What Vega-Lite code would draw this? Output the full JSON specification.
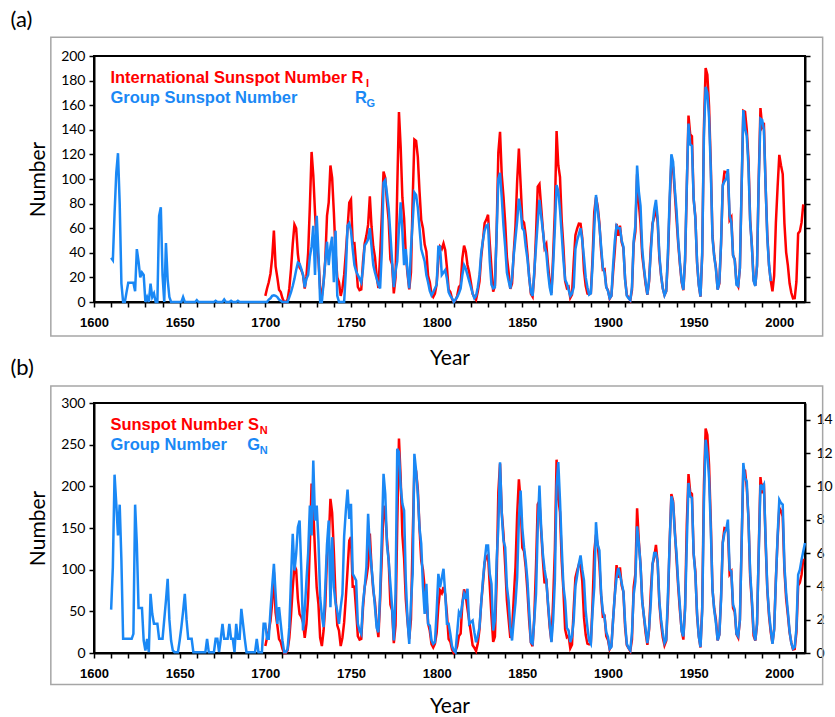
{
"$schema":"https://vega.github.io/schema/vega-lite/v6.json",
"padding":{"left":9,"top":7,"right":0,"bottom":0},
"background":"white",
"config":{"view":{"stroke":"black","strokeWidth":2},"font":"Lato","axis":{"domainColor":"black","domainWidth":2,"tickColor":"black","tickWidth":1.5,"grid":false,"labelColor":"black","titleColor":"black","labelOverlap":false,"labelBound":false,"labelFlush":false}},
"datasets":{
"ri":[{"year":1700,"value":5},{"year":1701,"value":11},{"year":1702,"value":16},{"year":1703,"value":23},{"year":1704,"value":36},{"year":1705,"value":58},{"year":1706,"value":29},{"year":1707,"value":20},{"year":1708,"value":10},{"year":1709,"value":8},{"year":1710,"value":3},{"year":1711,"value":0},{"year":1712,"value":0},{"year":1713,"value":2},{"year":1714,"value":11},{"year":1715,"value":27},{"year":1716,"value":47},{"year":1717,"value":63},{"year":1718,"value":60},{"year":1719,"value":39},{"year":1720,"value":28},{"year":1721,"value":26},{"year":1722,"value":22},{"year":1723,"value":11},{"year":1724,"value":21},{"year":1725,"value":40},{"year":1726,"value":78},{"year":1727,"value":122},{"year":1728,"value":103},{"year":1729,"value":73},{"year":1730,"value":47},{"year":1731,"value":35},{"year":1732,"value":11},{"year":1733,"value":5},{"year":1734,"value":16},{"year":1735,"value":34},{"year":1736,"value":70},{"year":1737,"value":81},{"year":1738,"value":111},{"year":1739,"value":101},{"year":1740,"value":73},{"year":1741,"value":40},{"year":1742,"value":20},{"year":1743,"value":16},{"year":1744,"value":5},{"year":1745,"value":11},{"year":1746,"value":22},{"year":1747,"value":40},{"year":1748,"value":60},{"year":1749,"value":80.9},{"year":1750,"value":83.4},{"year":1751,"value":47.7},{"year":1752,"value":47.8},{"year":1753,"value":30.7},{"year":1754,"value":12.2},{"year":1755,"value":9.6},{"year":1756,"value":10.2},{"year":1757,"value":32.4},{"year":1758,"value":47.6},{"year":1759,"value":54},{"year":1760,"value":62.9},{"year":1761,"value":85.9},{"year":1762,"value":61.2},{"year":1763,"value":45.1},{"year":1764,"value":36.4},{"year":1765,"value":20.9},{"year":1766,"value":11.4},{"year":1767,"value":37.8},{"year":1768,"value":69.8},{"year":1769,"value":106.1},{"year":1770,"value":100.8},{"year":1771,"value":81.6},{"year":1772,"value":66.5},{"year":1773,"value":34.8},{"year":1774,"value":30.6},{"year":1775,"value":7},{"year":1776,"value":19.8},{"year":1777,"value":92.5},{"year":1778,"value":154.4},{"year":1779,"value":125.9},{"year":1780,"value":84.8},{"year":1781,"value":68.1},{"year":1782,"value":38.5},{"year":1783,"value":22.8},{"year":1784,"value":10.2},{"year":1785,"value":24.1},{"year":1786,"value":82.9},{"year":1787,"value":132},{"year":1788,"value":130.9},{"year":1789,"value":118.1},{"year":1790,"value":89.9},{"year":1791,"value":66.6},{"year":1792,"value":60},{"year":1793,"value":46.9},{"year":1794,"value":41},{"year":1795,"value":21.3},{"year":1796,"value":16},{"year":1797,"value":6.4},{"year":1798,"value":4.1},{"year":1799,"value":6.8},{"year":1800,"value":14.5},{"year":1801,"value":34},{"year":1802,"value":45},{"year":1803,"value":43.1},{"year":1804,"value":47.5},{"year":1805,"value":42.2},{"year":1806,"value":28.1},{"year":1807,"value":10.1},{"year":1808,"value":8.1},{"year":1809,"value":2.5},{"year":1810,"value":0},{"year":1811,"value":1.4},{"year":1812,"value":5},{"year":1813,"value":12.2},{"year":1814,"value":13.9},{"year":1815,"value":35.4},{"year":1816,"value":45.8},{"year":1817,"value":41},{"year":1818,"value":30.1},{"year":1819,"value":23.9},{"year":1820,"value":15.6},{"year":1821,"value":6.6},{"year":1822,"value":4},{"year":1823,"value":1.8},{"year":1824,"value":8.5},{"year":1825,"value":16.6},{"year":1826,"value":36.3},{"year":1827,"value":49.6},{"year":1828,"value":64.2},{"year":1829,"value":67},{"year":1830,"value":70.9},{"year":1831,"value":47.8},{"year":1832,"value":27.5},{"year":1833,"value":8.5},{"year":1834,"value":13.2},{"year":1835,"value":56.9},{"year":1836,"value":121.5},{"year":1837,"value":138.3},{"year":1838,"value":103.2},{"year":1839,"value":85.7},{"year":1840,"value":64.6},{"year":1841,"value":36.7},{"year":1842,"value":24.2},{"year":1843,"value":10.7},{"year":1844,"value":15},{"year":1845,"value":40.1},{"year":1846,"value":61.5},{"year":1847,"value":98.5},{"year":1848,"value":124.7},{"year":1849,"value":96.3},{"year":1850,"value":66.6},{"year":1851,"value":64.5},{"year":1852,"value":54.1},{"year":1853,"value":39},{"year":1854,"value":20.6},{"year":1855,"value":6.7},{"year":1856,"value":4.3},{"year":1857,"value":22.7},{"year":1858,"value":54.8},{"year":1859,"value":93.8},{"year":1860,"value":95.8},{"year":1861,"value":77.2},{"year":1862,"value":59.1},{"year":1863,"value":44},{"year":1864,"value":47},{"year":1865,"value":30.5},{"year":1866,"value":16.3},{"year":1867,"value":7.3},{"year":1868,"value":37.6},{"year":1869,"value":74},{"year":1870,"value":139},{"year":1871,"value":111.2},{"year":1872,"value":101.6},{"year":1873,"value":66.2},{"year":1874,"value":44.7},{"year":1875,"value":17},{"year":1876,"value":11.3},{"year":1877,"value":12.4},{"year":1878,"value":3.4},{"year":1879,"value":6},{"year":1880,"value":32.3},{"year":1881,"value":54.3},{"year":1882,"value":59.7},{"year":1883,"value":63.7},{"year":1884,"value":63.5},{"year":1885,"value":52.2},{"year":1886,"value":25.4},{"year":1887,"value":13.1},{"year":1888,"value":6.8},{"year":1889,"value":6.3},{"year":1890,"value":7.1},{"year":1891,"value":35.6},{"year":1892,"value":73},{"year":1893,"value":85.1},{"year":1894,"value":78},{"year":1895,"value":64},{"year":1896,"value":41.8},{"year":1897,"value":26.2},{"year":1898,"value":26.7},{"year":1899,"value":12.1},{"year":1900,"value":9.5},{"year":1901,"value":2.7},{"year":1902,"value":5},{"year":1903,"value":24.4},{"year":1904,"value":42},{"year":1905,"value":63.5},{"year":1906,"value":53.8},{"year":1907,"value":62},{"year":1908,"value":48.5},{"year":1909,"value":43.9},{"year":1910,"value":18.6},{"year":1911,"value":5.7},{"year":1912,"value":3.6},{"year":1913,"value":1.4},{"year":1914,"value":9.6},{"year":1915,"value":47.4},{"year":1916,"value":57.1},{"year":1917,"value":103.9},{"year":1918,"value":80.6},{"year":1919,"value":63.6},{"year":1920,"value":37.6},{"year":1921,"value":26.1},{"year":1922,"value":14.2},{"year":1923,"value":5.8},{"year":1924,"value":16.7},{"year":1925,"value":44.3},{"year":1926,"value":63.9},{"year":1927,"value":69},{"year":1928,"value":77.8},{"year":1929,"value":64.9},{"year":1930,"value":35.7},{"year":1931,"value":21.2},{"year":1932,"value":11.1},{"year":1933,"value":5.7},{"year":1934,"value":8.7},{"year":1935,"value":36.1},{"year":1936,"value":79.7},{"year":1937,"value":114.4},{"year":1938,"value":109.6},{"year":1939,"value":88.8},{"year":1940,"value":67.8},{"year":1941,"value":47.5},{"year":1942,"value":30.6},{"year":1943,"value":16.3},{"year":1944,"value":9.6},{"year":1945,"value":33.2},{"year":1946,"value":92.6},{"year":1947,"value":151.6},{"year":1948,"value":136.3},{"year":1949,"value":134.7},{"year":1950,"value":83.9},{"year":1951,"value":69.4},{"year":1952,"value":31.5},{"year":1953,"value":13.9},{"year":1954,"value":4.4},{"year":1955,"value":38},{"year":1956,"value":141.7},{"year":1957,"value":190.2},{"year":1958,"value":184.8},{"year":1959,"value":159},{"year":1960,"value":112.3},{"year":1961,"value":53.9},{"year":1962,"value":37.6},{"year":1963,"value":27.9},{"year":1964,"value":10.2},{"year":1965,"value":15.1},{"year":1966,"value":47},{"year":1967,"value":93.8},{"year":1968,"value":105.9},{"year":1969,"value":105.5},{"year":1970,"value":104.5},{"year":1971,"value":66.6},{"year":1972,"value":68.9},{"year":1973,"value":38},{"year":1974,"value":34.5},{"year":1975,"value":15.5},{"year":1976,"value":12.6},{"year":1977,"value":27.5},{"year":1978,"value":92.5},{"year":1979,"value":155.4},{"year":1980,"value":154.6},{"year":1981,"value":140.4},{"year":1982,"value":115.9},{"year":1983,"value":66.6},{"year":1984,"value":45.9},{"year":1985,"value":17.9},{"year":1986,"value":13.4},{"year":1987,"value":29.4},{"year":1988,"value":100.2},{"year":1989,"value":157.6},{"year":1990,"value":142.6},{"year":1991,"value":145.7},{"year":1992,"value":94.3},{"year":1993,"value":54.6},{"year":1994,"value":29.9},{"year":1995,"value":17.5},{"year":1996,"value":8.6},{"year":1997,"value":21.5},{"year":1998,"value":64.3},{"year":1999,"value":93.3},{"year":2000,"value":119.6},{"year":2001,"value":111},{"year":2002,"value":104},{"year":2003,"value":63.7},{"year":2004,"value":40.4},{"year":2005,"value":29.8},{"year":2006,"value":15.2},{"year":2007,"value":7.5},{"year":2008,"value":2.9},{"year":2009,"value":3.1},{"year":2010,"value":16.5},{"year":2011,"value":55.7},{"year":2012,"value":57.6},{"year":2013,"value":64.7},{"year":2014,"value":79.3}],
"rg":[{"year":1610,"value":36},{"year":1611,"value":34},{"year":1612,"value":72},{"year":1613,"value":105},{"year":1614,"value":121},{"year":1615,"value":80},{"year":1616,"value":15},{"year":1617,"value":0},{"year":1618,"value":0},{"year":1619,"value":8},{"year":1620,"value":15.6},{"year":1621,"value":15.6},{"year":1622,"value":15.6},{"year":1623,"value":15.6},{"year":1624,"value":8.8},{"year":1625,"value":43},{"year":1626,"value":33},{"year":1627,"value":20},{"year":1628,"value":24},{"year":1629,"value":22},{"year":1630,"value":0},{"year":1631,"value":4},{"year":1632,"value":0},{"year":1633,"value":15},{"year":1634,"value":4},{"year":1635,"value":7},{"year":1636,"value":0},{"year":1637,"value":0},{"year":1638,"value":70},{"year":1639,"value":77},{"year":1640,"value":22},{"year":1641,"value":0},{"year":1642,"value":48},{"year":1643,"value":18},{"year":1644,"value":4},{"year":1645,"value":0},{"year":1646,"value":0},{"year":1647,"value":0},{"year":1648,"value":0},{"year":1649,"value":0},{"year":1650,"value":0},{"year":1651,"value":0},{"year":1652,"value":4},{"year":1653,"value":0},{"year":1654,"value":0},{"year":1655,"value":0},{"year":1656,"value":0},{"year":1657,"value":0},{"year":1658,"value":0},{"year":1659,"value":0},{"year":1660,"value":1.5},{"year":1661,"value":0},{"year":1662,"value":0},{"year":1663,"value":0},{"year":1664,"value":0},{"year":1665,"value":0},{"year":1666,"value":0},{"year":1667,"value":0},{"year":1668,"value":0},{"year":1669,"value":0},{"year":1670,"value":0},{"year":1671,"value":1},{"year":1672,"value":0},{"year":1673,"value":0},{"year":1674,"value":0},{"year":1675,"value":0},{"year":1676,"value":2},{"year":1677,"value":0},{"year":1678,"value":0},{"year":1679,"value":0},{"year":1680,"value":1},{"year":1681,"value":0},{"year":1682,"value":0},{"year":1683,"value":0},{"year":1684,"value":1},{"year":1685,"value":0},{"year":1686,"value":0},{"year":1687,"value":0},{"year":1688,"value":0},{"year":1689,"value":0},{"year":1690,"value":0},{"year":1691,"value":0},{"year":1692,"value":0},{"year":1693,"value":0},{"year":1694,"value":0},{"year":1695,"value":0},{"year":1696,"value":0},{"year":1697,"value":0},{"year":1698,"value":0},{"year":1699,"value":0},{"year":1700,"value":0},{"year":1701,"value":0},{"year":1702,"value":2},{"year":1703,"value":3},{"year":1704,"value":5},{"year":1705,"value":5.5},{"year":1706,"value":5},{"year":1707,"value":4},{"year":1708,"value":2},{"year":1709,"value":1},{"year":1710,"value":0},{"year":1711,"value":0},{"year":1712,"value":0},{"year":1713,"value":0},{"year":1714,"value":4},{"year":1715,"value":8},{"year":1716,"value":13},{"year":1717,"value":19},{"year":1718,"value":26},{"year":1719,"value":32},{"year":1720,"value":31},{"year":1721,"value":27},{"year":1722,"value":22},{"year":1723,"value":12},{"year":1724,"value":19},{"year":1725,"value":22},{"year":1726,"value":37},{"year":1727,"value":45},{"year":1728,"value":62},{"year":1729,"value":22},{"year":1730,"value":70},{"year":1731,"value":40},{"year":1732,"value":0},{"year":1733,"value":0},{"year":1734,"value":16},{"year":1735,"value":33},{"year":1736,"value":49},{"year":1737,"value":30},{"year":1738,"value":45},{"year":1739,"value":53},{"year":1740,"value":16},{"year":1741,"value":58},{"year":1742,"value":5},{"year":1743,"value":0},{"year":1744,"value":0},{"year":1745,"value":0},{"year":1746,"value":0},{"year":1747,"value":25},{"year":1748,"value":62},{"year":1749,"value":64},{"year":1750,"value":58},{"year":1751,"value":43},{"year":1752,"value":30},{"year":1753,"value":25},{"year":1754,"value":22},{"year":1755,"value":19},{"year":1756,"value":16},{"year":1757,"value":27},{"year":1758,"value":46},{"year":1759,"value":48},{"year":1760,"value":51},{"year":1761,"value":60},{"year":1762,"value":45},{"year":1763,"value":30},{"year":1764,"value":24},{"year":1765,"value":19},{"year":1766,"value":14},{"year":1767,"value":11},{"year":1768,"value":41},{"year":1769,"value":97},{"year":1770,"value":99},{"year":1771,"value":88},{"year":1772,"value":76},{"year":1773,"value":55},{"year":1774,"value":33},{"year":1775,"value":12},{"year":1776,"value":25},{"year":1777,"value":33},{"year":1778,"value":60},{"year":1779,"value":81},{"year":1780,"value":57},{"year":1781,"value":30},{"year":1782,"value":43},{"year":1783,"value":25},{"year":1784,"value":11},{"year":1785,"value":43},{"year":1786,"value":65},{"year":1787,"value":89},{"year":1788,"value":87},{"year":1789,"value":77},{"year":1790,"value":60},{"year":1791,"value":43},{"year":1792,"value":38},{"year":1793,"value":33},{"year":1794,"value":22},{"year":1795,"value":16},{"year":1796,"value":9},{"year":1797,"value":5.5},{"year":1798,"value":8},{"year":1799,"value":11},{"year":1800,"value":14},{"year":1801,"value":45},{"year":1802,"value":45},{"year":1803,"value":22},{"year":1804,"value":24},{"year":1805,"value":26},{"year":1806,"value":19},{"year":1807,"value":8},{"year":1808,"value":5},{"year":1809,"value":3},{"year":1810,"value":0},{"year":1811,"value":2},{"year":1812,"value":4},{"year":1813,"value":7},{"year":1814,"value":11},{"year":1815,"value":22},{"year":1816,"value":30},{"year":1817,"value":27},{"year":1818,"value":22},{"year":1819,"value":17},{"year":1820,"value":12},{"year":1821,"value":7},{"year":1822,"value":3},{"year":1823,"value":5},{"year":1824,"value":12},{"year":1825,"value":22},{"year":1826,"value":40},{"year":1827,"value":50},{"year":1828,"value":58},{"year":1829,"value":62},{"year":1830,"value":63},{"year":1831,"value":33},{"year":1832,"value":14},{"year":1833,"value":11},{"year":1834,"value":12},{"year":1835,"value":55},{"year":1836,"value":100},{"year":1837,"value":105},{"year":1838,"value":85},{"year":1839,"value":62},{"year":1840,"value":45},{"year":1841,"value":24},{"year":1842,"value":17},{"year":1843,"value":11},{"year":1844,"value":20},{"year":1845,"value":38},{"year":1846,"value":52},{"year":1847,"value":66},{"year":1848,"value":84},{"year":1849,"value":75},{"year":1850,"value":60},{"year":1851,"value":58},{"year":1852,"value":45},{"year":1853,"value":35},{"year":1854,"value":20},{"year":1855,"value":8},{"year":1856,"value":5},{"year":1857,"value":25},{"year":1858,"value":45},{"year":1859,"value":65},{"year":1860,"value":83},{"year":1861,"value":70},{"year":1862,"value":58},{"year":1863,"value":45},{"year":1864,"value":40},{"year":1865,"value":24},{"year":1866,"value":12},{"year":1867,"value":5.5},{"year":1868,"value":30},{"year":1869,"value":60},{"year":1870,"value":95},{"year":1871,"value":90},{"year":1872,"value":75},{"year":1873,"value":55},{"year":1874,"value":34},{"year":1875,"value":18},{"year":1876,"value":15},{"year":1877,"value":10},{"year":1878,"value":5},{"year":1879,"value":7},{"year":1880,"value":12},{"year":1881,"value":43},{"year":1882,"value":50},{"year":1883,"value":55},{"year":1884,"value":60},{"year":1885,"value":50},{"year":1886,"value":36},{"year":1887,"value":20},{"year":1888,"value":12},{"year":1889,"value":6},{"year":1890,"value":7},{"year":1891,"value":30},{"year":1892,"value":60},{"year":1893,"value":87},{"year":1894,"value":75},{"year":1895,"value":62},{"year":1896,"value":45},{"year":1897,"value":28},{"year":1898,"value":24},{"year":1899,"value":12},{"year":1900,"value":9},{"year":1901,"value":3},{"year":1902,"value":5},{"year":1903,"value":30},{"year":1904,"value":50},{"year":1905,"value":62},{"year":1906,"value":60},{"year":1907,"value":60},{"year":1908,"value":50},{"year":1909,"value":45},{"year":1910,"value":18},{"year":1911,"value":5},{"year":1912,"value":3},{"year":1913,"value":1.5},{"year":1914,"value":12},{"year":1915,"value":50},{"year":1916,"value":62},{"year":1917,"value":111},{"year":1918,"value":90},{"year":1919,"value":78},{"year":1920,"value":43},{"year":1921,"value":28},{"year":1922,"value":16},{"year":1923,"value":6},{"year":1924,"value":18},{"year":1925,"value":40},{"year":1926,"value":62},{"year":1927,"value":75},{"year":1928,"value":83},{"year":1929,"value":68},{"year":1930,"value":38},{"year":1931,"value":22},{"year":1932,"value":11},{"year":1933,"value":5.5},{"year":1934,"value":9},{"year":1935,"value":40},{"year":1936,"value":85},{"year":1937,"value":120},{"year":1938,"value":114},{"year":1939,"value":92},{"year":1940,"value":75},{"year":1941,"value":50},{"year":1942,"value":32},{"year":1943,"value":17},{"year":1944,"value":10},{"year":1945,"value":35},{"year":1946,"value":95},{"year":1947,"value":145},{"year":1948,"value":128},{"year":1949,"value":127},{"year":1950,"value":84},{"year":1951,"value":68},{"year":1952,"value":33},{"year":1953,"value":14},{"year":1954,"value":4.5},{"year":1955,"value":40},{"year":1956,"value":135},{"year":1957,"value":175},{"year":1958,"value":170},{"year":1959,"value":150},{"year":1960,"value":108},{"year":1961,"value":52},{"year":1962,"value":37},{"year":1963,"value":27},{"year":1964,"value":10},{"year":1965,"value":16},{"year":1966,"value":48},{"year":1967,"value":95},{"year":1968,"value":98},{"year":1969,"value":100},{"year":1970,"value":108},{"year":1971,"value":70},{"year":1972,"value":65},{"year":1973,"value":38},{"year":1974,"value":34},{"year":1975,"value":14},{"year":1976,"value":13},{"year":1977,"value":28},{"year":1978,"value":94},{"year":1979,"value":156},{"year":1980,"value":141},{"year":1981,"value":135},{"year":1982,"value":110},{"year":1983,"value":65},{"year":1984,"value":45},{"year":1985,"value":17},{"year":1986,"value":13},{"year":1987,"value":30},{"year":1988,"value":98},{"year":1989,"value":149},{"year":1990,"value":148},{"year":1991,"value":140},{"year":1992,"value":95},{"year":1993,"value":52},{"year":1994,"value":30},{"year":1995,"value":17}],
"sn":[{"year":1700,"value":8.3},{"year":1701,"value":18.3},{"year":1702,"value":26.7},{"year":1703,"value":38.3},{"year":1704,"value":60},{"year":1705,"value":96.7},{"year":1706,"value":48.3},{"year":1707,"value":33.3},{"year":1708,"value":16.7},{"year":1709,"value":13.3},{"year":1710,"value":5},{"year":1711,"value":0},{"year":1712,"value":0},{"year":1713,"value":3.3},{"year":1714,"value":18.3},{"year":1715,"value":45},{"year":1716,"value":78.3},{"year":1717,"value":105},{"year":1718,"value":100},{"year":1719,"value":65},{"year":1720,"value":46.7},{"year":1721,"value":43.3},{"year":1722,"value":36.7},{"year":1723,"value":18.3},{"year":1724,"value":35},{"year":1725,"value":66.7},{"year":1726,"value":130},{"year":1727,"value":203.3},{"year":1728,"value":171.7},{"year":1729,"value":121.7},{"year":1730,"value":78.3},{"year":1731,"value":58.3},{"year":1732,"value":18.3},{"year":1733,"value":8.3},{"year":1734,"value":26.7},{"year":1735,"value":56.7},{"year":1736,"value":116.7},{"year":1737,"value":135},{"year":1738,"value":185},{"year":1739,"value":168.3},{"year":1740,"value":121.7},{"year":1741,"value":66.7},{"year":1742,"value":33.3},{"year":1743,"value":26.7},{"year":1744,"value":8.3},{"year":1745,"value":18.3},{"year":1746,"value":36.7},{"year":1747,"value":66.7},{"year":1748,"value":100},{"year":1749,"value":134.8},{"year":1750,"value":139},{"year":1751,"value":79.5},{"year":1752,"value":79.7},{"year":1753,"value":51.2},{"year":1754,"value":20.3},{"year":1755,"value":16},{"year":1756,"value":17},{"year":1757,"value":54},{"year":1758,"value":79.3},{"year":1759,"value":90},{"year":1760,"value":104.8},{"year":1761,"value":143.2},{"year":1762,"value":102},{"year":1763,"value":75.2},{"year":1764,"value":60.7},{"year":1765,"value":34.8},{"year":1766,"value":19},{"year":1767,"value":63},{"year":1768,"value":116.3},{"year":1769,"value":176.8},{"year":1770,"value":168},{"year":1771,"value":136},{"year":1772,"value":110.8},{"year":1773,"value":58},{"year":1774,"value":51},{"year":1775,"value":11.7},{"year":1776,"value":33},{"year":1777,"value":154.2},{"year":1778,"value":257.3},{"year":1779,"value":209.8},{"year":1780,"value":141.3},{"year":1781,"value":113.5},{"year":1782,"value":64.2},{"year":1783,"value":38},{"year":1784,"value":17},{"year":1785,"value":40.2},{"year":1786,"value":138.2},{"year":1787,"value":220},{"year":1788,"value":218.2},{"year":1789,"value":196.8},{"year":1790,"value":149.8},{"year":1791,"value":111},{"year":1792,"value":100},{"year":1793,"value":78.2},{"year":1794,"value":68.3},{"year":1795,"value":35.5},{"year":1796,"value":26.7},{"year":1797,"value":10.7},{"year":1798,"value":6.8},{"year":1799,"value":11.3},{"year":1800,"value":24.2},{"year":1801,"value":56.7},{"year":1802,"value":75},{"year":1803,"value":71.8},{"year":1804,"value":79.2},{"year":1805,"value":70.3},{"year":1806,"value":46.8},{"year":1807,"value":16.8},{"year":1808,"value":13.5},{"year":1809,"value":4.2},{"year":1810,"value":0},{"year":1811,"value":2.3},{"year":1812,"value":8.3},{"year":1813,"value":20.3},{"year":1814,"value":23.2},{"year":1815,"value":59},{"year":1816,"value":76.3},{"year":1817,"value":68.3},{"year":1818,"value":52.9},{"year":1819,"value":38.5},{"year":1820,"value":24.2},{"year":1821,"value":9.2},{"year":1822,"value":6.3},{"year":1823,"value":2.2},{"year":1824,"value":11.4},{"year":1825,"value":28.2},{"year":1826,"value":59.9},{"year":1827,"value":83},{"year":1828,"value":108.5},{"year":1829,"value":115.2},{"year":1830,"value":117.4},{"year":1831,"value":80.8},{"year":1832,"value":44.3},{"year":1833,"value":13.4},{"year":1834,"value":19.5},{"year":1835,"value":85.8},{"year":1836,"value":192.7},{"year":1837,"value":227.3},{"year":1838,"value":168.7},{"year":1839,"value":143},{"year":1840,"value":105.5},{"year":1841,"value":63.3},{"year":1842,"value":40.3},{"year":1843,"value":18.1},{"year":1844,"value":25.1},{"year":1845,"value":65.8},{"year":1846,"value":102.7},{"year":1847,"value":166.3},{"year":1848,"value":208.3},{"year":1849,"value":182.5},{"year":1850,"value":126.3},{"year":1851,"value":122},{"year":1852,"value":102.7},{"year":1853,"value":74.1},{"year":1854,"value":39},{"year":1855,"value":12.7},{"year":1856,"value":8.2},{"year":1857,"value":43.4},{"year":1858,"value":104.4},{"year":1859,"value":178.3},{"year":1860,"value":182.2},{"year":1861,"value":146.6},{"year":1862,"value":112.1},{"year":1863,"value":83.5},{"year":1864,"value":89.3},{"year":1865,"value":57.8},{"year":1866,"value":30.7},{"year":1867,"value":13.9},{"year":1868,"value":62.8},{"year":1869,"value":123.6},{"year":1870,"value":232},{"year":1871,"value":185.3},{"year":1872,"value":169.2},{"year":1873,"value":110.1},{"year":1874,"value":74.5},{"year":1875,"value":28.3},{"year":1876,"value":18.9},{"year":1877,"value":20.7},{"year":1878,"value":5.7},{"year":1879,"value":10},{"year":1880,"value":53.7},{"year":1881,"value":90.5},{"year":1882,"value":99},{"year":1883,"value":106.1},{"year":1884,"value":105.8},{"year":1885,"value":86.3},{"year":1886,"value":42.4},{"year":1887,"value":21.8},{"year":1888,"value":11.2},{"year":1889,"value":10.4},{"year":1890,"value":11.8},{"year":1891,"value":59.5},{"year":1892,"value":121.7},{"year":1893,"value":142},{"year":1894,"value":130},{"year":1895,"value":106.6},{"year":1896,"value":69.4},{"year":1897,"value":43.8},{"year":1898,"value":44.4},{"year":1899,"value":20.2},{"year":1900,"value":15.7},{"year":1901,"value":4.6},{"year":1902,"value":8.5},{"year":1903,"value":40.8},{"year":1904,"value":70.1},{"year":1905,"value":105.5},{"year":1906,"value":90.1},{"year":1907,"value":102.8},{"year":1908,"value":80.9},{"year":1909,"value":73.2},{"year":1910,"value":30.9},{"year":1911,"value":9.5},{"year":1912,"value":6},{"year":1913,"value":2.4},{"year":1914,"value":16.1},{"year":1915,"value":79},{"year":1916,"value":95},{"year":1917,"value":173.6},{"year":1918,"value":134.6},{"year":1919,"value":105.7},{"year":1920,"value":62.7},{"year":1921,"value":43.5},{"year":1922,"value":23.7},{"year":1923,"value":9.7},{"year":1924,"value":27.9},{"year":1925,"value":74},{"year":1926,"value":106.5},{"year":1927,"value":114.7},{"year":1928,"value":129.7},{"year":1929,"value":108.2},{"year":1930,"value":59.4},{"year":1931,"value":35.1},{"year":1932,"value":18.6},{"year":1933,"value":9.2},{"year":1934,"value":14.6},{"year":1935,"value":60.2},{"year":1936,"value":132.8},{"year":1937,"value":190.6},{"year":1938,"value":182.6},{"year":1939,"value":148},{"year":1940,"value":113},{"year":1941,"value":79.2},{"year":1942,"value":50.8},{"year":1943,"value":27.1},{"year":1944,"value":16.1},{"year":1945,"value":55.3},{"year":1946,"value":154.3},{"year":1947,"value":214.7},{"year":1948,"value":193},{"year":1949,"value":190.7},{"year":1950,"value":118.9},{"year":1951,"value":98.3},{"year":1952,"value":45},{"year":1953,"value":20.1},{"year":1954,"value":6.6},{"year":1955,"value":54.2},{"year":1956,"value":200.7},{"year":1957,"value":269.3},{"year":1958,"value":261.7},{"year":1959,"value":225.1},{"year":1960,"value":159},{"year":1961,"value":76.4},{"year":1962,"value":53.4},{"year":1963,"value":39.9},{"year":1964,"value":15},{"year":1965,"value":22},{"year":1966,"value":66.8},{"year":1967,"value":132.9},{"year":1968,"value":150},{"year":1969,"value":149.4},{"year":1970,"value":148},{"year":1971,"value":94.4},{"year":1972,"value":97.6},{"year":1973,"value":54.1},{"year":1974,"value":49.2},{"year":1975,"value":22.5},{"year":1976,"value":18.4},{"year":1977,"value":39.3},{"year":1978,"value":131},{"year":1979,"value":220.1},{"year":1980,"value":218.9},{"year":1981,"value":198.9},{"year":1982,"value":162.4},{"year":1983,"value":91},{"year":1984,"value":60.5},{"year":1985,"value":20.6},{"year":1986,"value":14.8},{"year":1987,"value":33.9},{"year":1988,"value":123},{"year":1989,"value":211.1},{"year":1990,"value":191.8},{"year":1991,"value":203.3},{"year":1992,"value":133},{"year":1993,"value":76.1},{"year":1994,"value":44.9},{"year":1995,"value":25.1},{"year":1996,"value":11.6},{"year":1997,"value":28.9},{"year":1998,"value":88.3},{"year":1999,"value":136.3},{"year":2000,"value":173.9},{"year":2001,"value":170.4},{"year":2002,"value":163.6},{"year":2003,"value":99.3},{"year":2004,"value":65.3},{"year":2005,"value":45.8},{"year":2006,"value":24.7},{"year":2007,"value":12.6},{"year":2008,"value":4.2},{"year":2009,"value":4.8},{"year":2010,"value":24.9},{"year":2011,"value":80.8},{"year":2012,"value":84.5},{"year":2013,"value":94},{"year":2014,"value":113.3}],
"gn":[{"year":1610,"value":2.6},{"year":1611,"value":5.15},{"year":1612,"value":10.7},{"year":1613,"value":8.95},{"year":1614,"value":7.05},{"year":1615,"value":8.9},{"year":1616,"value":5.55},{"year":1617,"value":0.85},{"year":1618,"value":0.85},{"year":1619,"value":0.85},{"year":1620,"value":0.85},{"year":1621,"value":0.85},{"year":1622,"value":0.85},{"year":1623,"value":1.15},{"year":1624,"value":8.9},{"year":1625,"value":6.55},{"year":1626,"value":2.7},{"year":1627,"value":2.7},{"year":1628,"value":2.7},{"year":1629,"value":0.75},{"year":1630,"value":0.15},{"year":1631,"value":0.85},{"year":1632,"value":0.05},{"year":1633,"value":3.55},{"year":1634,"value":2.35},{"year":1635,"value":1.75},{"year":1636,"value":1.75},{"year":1637,"value":1.75},{"year":1638,"value":0.85},{"year":1639,"value":0.85},{"year":1640,"value":0.85},{"year":1641,"value":2},{"year":1642,"value":3.15},{"year":1643,"value":4.45},{"year":1644,"value":2},{"year":1645,"value":0.75},{"year":1646,"value":0.15},{"year":1647,"value":0.05},{"year":1648,"value":0.05},{"year":1649,"value":0.05},{"year":1650,"value":0.75},{"year":1651,"value":1.55},{"year":1652,"value":2.5},{"year":1653,"value":3.55},{"year":1654,"value":2},{"year":1655,"value":0.85},{"year":1656,"value":0.85},{"year":1657,"value":0.85},{"year":1658,"value":0.05},{"year":1659,"value":0.05},{"year":1660,"value":0.05},{"year":1661,"value":0.05},{"year":1662,"value":0.05},{"year":1663,"value":0.05},{"year":1664,"value":0.05},{"year":1665,"value":0.05},{"year":1666,"value":0.85},{"year":1667,"value":0.05},{"year":1668,"value":0.05},{"year":1669,"value":0.05},{"year":1670,"value":0.05},{"year":1671,"value":0.85},{"year":1672,"value":0.85},{"year":1673,"value":0.05},{"year":1674,"value":0.85},{"year":1675,"value":1.75},{"year":1676,"value":0.85},{"year":1677,"value":0.85},{"year":1678,"value":0.85},{"year":1679,"value":1.75},{"year":1680,"value":0.85},{"year":1681,"value":0.85},{"year":1682,"value":0.05},{"year":1683,"value":1.75},{"year":1684,"value":0.85},{"year":1685,"value":0.85},{"year":1686,"value":2.65},{"year":1687,"value":1.75},{"year":1688,"value":0.85},{"year":1689,"value":0.05},{"year":1690,"value":0.05},{"year":1691,"value":0.05},{"year":1692,"value":0.05},{"year":1693,"value":0.05},{"year":1694,"value":0.05},{"year":1695,"value":0.85},{"year":1696,"value":0.05},{"year":1697,"value":0.05},{"year":1698,"value":0.05},{"year":1699,"value":1.75},{"year":1700,"value":1.75},{"year":1701,"value":0.85},{"year":1702,"value":0.85},{"year":1703,"value":2.55},{"year":1704,"value":4},{"year":1705,"value":5.35},{"year":1706,"value":3.55},{"year":1707,"value":1.75},{"year":1708,"value":2.75},{"year":1709,"value":1.75},{"year":1710,"value":0.75},{"year":1711,"value":0.05},{"year":1712,"value":0.05},{"year":1713,"value":0.25},{"year":1714,"value":1.55},{"year":1715,"value":4.5},{"year":1716,"value":7.15},{"year":1717,"value":4.95},{"year":1718,"value":5.95},{"year":1719,"value":7.55},{"year":1720,"value":7.95},{"year":1721,"value":5},{"year":1722,"value":1.35},{"year":1723,"value":2.55},{"year":1724,"value":4.35},{"year":1725,"value":6},{"year":1726,"value":8.85},{"year":1727,"value":7.05},{"year":1728,"value":11.55},{"year":1729,"value":7.95},{"year":1730,"value":8.85},{"year":1731,"value":6.75},{"year":1732,"value":3.35},{"year":1733,"value":2.25},{"year":1734,"value":1.55},{"year":1735,"value":3.95},{"year":1736,"value":6.5},{"year":1737,"value":7.95},{"year":1738,"value":2.75},{"year":1739,"value":6.95},{"year":1740,"value":3.95},{"year":1741,"value":3},{"year":1742,"value":2.5},{"year":1743,"value":1.75},{"year":1744,"value":2.75},{"year":1745,"value":3.55},{"year":1746,"value":7},{"year":1747,"value":8.55},{"year":1748,"value":9.8},{"year":1749,"value":8.05},{"year":1750,"value":8.95},{"year":1751,"value":4.75},{"year":1752,"value":4.55},{"year":1753,"value":4.35},{"year":1754,"value":1.75},{"year":1755,"value":1.35},{"year":1756,"value":1.15},{"year":1757,"value":3},{"year":1758,"value":3.95},{"year":1759,"value":5.15},{"year":1760,"value":8.35},{"year":1761,"value":6.25},{"year":1762,"value":5.15},{"year":1763,"value":3.95},{"year":1764,"value":2.75},{"year":1765,"value":1.5},{"year":1766,"value":1.25},{"year":1767,"value":3.55},{"year":1768,"value":7},{"year":1769,"value":10.75},{"year":1770,"value":9.55},{"year":1771,"value":6.5},{"year":1772,"value":5.55},{"year":1773,"value":4.15},{"year":1774,"value":2.75},{"year":1775,"value":0.75},{"year":1776,"value":3.55},{"year":1777,"value":12.25},{"year":1778,"value":12.05},{"year":1779,"value":10},{"year":1780,"value":8.95},{"year":1781,"value":8.55},{"year":1782,"value":4.35},{"year":1783,"value":2},{"year":1784,"value":0.55},{"year":1785,"value":3},{"year":1786,"value":4.75},{"year":1787,"value":11.95},{"year":1788,"value":10.95},{"year":1789,"value":9.55},{"year":1790,"value":7.5},{"year":1791,"value":6.55},{"year":1792,"value":4},{"year":1793,"value":2.35},{"year":1794,"value":4.15},{"year":1795,"value":1.75},{"year":1796,"value":1.65},{"year":1797,"value":0.75},{"year":1798,"value":0.55},{"year":1799,"value":0.65},{"year":1800,"value":2.5},{"year":1801,"value":4.75},{"year":1802,"value":3.95},{"year":1803,"value":4.5},{"year":1804,"value":5.05},{"year":1805,"value":3.55},{"year":1806,"value":1.75},{"year":1807,"value":1.75},{"year":1808,"value":1.15},{"year":1809,"value":0.4},{"year":1810,"value":0.15},{"year":1811,"value":0.05},{"year":1812,"value":1.25},{"year":1813,"value":2.45},{"year":1814,"value":2.25},{"year":1815,"value":3},{"year":1816,"value":3.55},{"year":1817,"value":3.25},{"year":1818,"value":3.85},{"year":1819,"value":1.75},{"year":1820,"value":1.85},{"year":1821,"value":1.95},{"year":1822,"value":1.25},{"year":1823,"value":0.65},{"year":1824,"value":1},{"year":1825,"value":1.55},{"year":1826,"value":3},{"year":1827,"value":4.35},{"year":1828,"value":5.5},{"year":1829,"value":6.45},{"year":1830,"value":6.45},{"year":1831,"value":4.75},{"year":1832,"value":4.15},{"year":1833,"value":1.35},{"year":1834,"value":1.95},{"year":1835,"value":5.5},{"year":1836,"value":7.55},{"year":1837,"value":11.45},{"year":1838,"value":8.35},{"year":1839,"value":6.75},{"year":1840,"value":6.35},{"year":1841,"value":4},{"year":1842,"value":3.15},{"year":1843,"value":1.5},{"year":1844,"value":0.75},{"year":1845,"value":1.95},{"year":1846,"value":3},{"year":1847,"value":4.55},{"year":1848,"value":8},{"year":1849,"value":9.75},{"year":1850,"value":7.5},{"year":1851,"value":6.35},{"year":1852,"value":5.5},{"year":1853,"value":4.35},{"year":1854,"value":2.5},{"year":1855,"value":0.65},{"year":1856,"value":0.55},{"year":1857,"value":2},{"year":1858,"value":3.55},{"year":1859,"value":7.5},{"year":1860,"value":10.05},{"year":1861,"value":7.5},{"year":1862,"value":5.95},{"year":1863,"value":5},{"year":1864,"value":4.35},{"year":1865,"value":3},{"year":1866,"value":1.75},{"year":1867,"value":0.65},{"year":1868,"value":2},{"year":1869,"value":4.35},{"year":1870,"value":10},{"year":1871,"value":11.45},{"year":1872,"value":9.15},{"year":1873,"value":6.35},{"year":1874,"value":4},{"year":1875,"value":3.15},{"year":1876,"value":1.5},{"year":1877,"value":1.35},{"year":1878,"value":0.65},{"year":1879,"value":1},{"year":1880,"value":1.95},{"year":1881,"value":4},{"year":1882,"value":4.65},{"year":1883,"value":5.35},{"year":1884,"value":5.85},{"year":1885,"value":5},{"year":1886,"value":4.35},{"year":1887,"value":2.5},{"year":1888,"value":1.55},{"year":1889,"value":0.75},{"year":1890,"value":0.55},{"year":1891,"value":2.5},{"year":1892,"value":3.95},{"year":1893,"value":7.85},{"year":1894,"value":6.5},{"year":1895,"value":6.15},{"year":1896,"value":3.55},{"year":1897,"value":2.5},{"year":1898,"value":2.15},{"year":1899,"value":1.25},{"year":1900,"value":0.95},{"year":1901,"value":0.25},{"year":1902,"value":0.36},{"year":1903,"value":2},{"year":1904,"value":3.5},{"year":1905,"value":4.5},{"year":1906,"value":5.1},{"year":1907,"value":4.7},{"year":1908,"value":4.2},{"year":1909,"value":3.7},{"year":1910,"value":1.8},{"year":1911,"value":0.55},{"year":1912,"value":0.3},{"year":1913,"value":0.16},{"year":1914,"value":1.2},{"year":1915,"value":3.5},{"year":1916,"value":4.3},{"year":1917,"value":7.6},{"year":1918,"value":6.6},{"year":1919,"value":5.3},{"year":1920,"value":3.1},{"year":1921,"value":2.2},{"year":1922,"value":1.4},{"year":1923,"value":0.6},{"year":1924,"value":1.5},{"year":1925,"value":3},{"year":1926,"value":5.3},{"year":1927,"value":6},{"year":1928,"value":6},{"year":1929,"value":5.5},{"year":1930,"value":3.1},{"year":1931,"value":2},{"year":1932,"value":1.2},{"year":1933,"value":0.6},{"year":1934,"value":0.8},{"year":1935,"value":3.5},{"year":1936,"value":6.6},{"year":1937,"value":9.4},{"year":1938,"value":9},{"year":1939,"value":7.2},{"year":1940,"value":6},{"year":1941,"value":4.2},{"year":1942,"value":2.8},{"year":1943,"value":1.3},{"year":1944,"value":1},{"year":1945,"value":2.6},{"year":1946,"value":6.5},{"year":1947,"value":10.2},{"year":1948,"value":9.4},{"year":1949,"value":9.3},{"year":1950,"value":6},{"year":1951,"value":4.7},{"year":1952,"value":2.4},{"year":1953,"value":1},{"year":1954,"value":0.36},{"year":1955,"value":2.5},{"year":1956,"value":9},{"year":1957,"value":12.8},{"year":1958,"value":12},{"year":1959,"value":10.5},{"year":1960,"value":7.5},{"year":1961,"value":3.8},{"year":1962,"value":2.6},{"year":1963,"value":1.8},{"year":1964,"value":0.75},{"year":1965,"value":1.1},{"year":1966,"value":3.2},{"year":1967,"value":6.6},{"year":1968,"value":7.2},{"year":1969,"value":7.4},{"year":1970,"value":8},{"year":1971,"value":5},{"year":1972,"value":4.9},{"year":1973,"value":2.9},{"year":1974,"value":2.6},{"year":1975,"value":1.15},{"year":1976,"value":1},{"year":1977,"value":2},{"year":1978,"value":6.5},{"year":1979,"value":11.4},{"year":1980,"value":10.5},{"year":1981,"value":10.3},{"year":1982,"value":8},{"year":1983,"value":4.8},{"year":1984,"value":3.2},{"year":1985,"value":1.3},{"year":1986,"value":0.75},{"year":1987,"value":1.8},{"year":1988,"value":6},{"year":1989,"value":10.1},{"year":1990,"value":9.9},{"year":1991,"value":10.1},{"year":1992,"value":6.9},{"year":1993,"value":3.9},{"year":1994,"value":2.4},{"year":1995,"value":1.4},{"year":1996,"value":0.55},{"year":1997,"value":1.4},{"year":1998,"value":4.3},{"year":1999,"value":7},{"year":2000,"value":9.2},{"year":2001,"value":9},{"year":2002,"value":8.9},{"year":2003,"value":5.2},{"year":2004,"value":3.6},{"year":2005,"value":2.5},{"year":2006,"value":1.3},{"year":2007,"value":0.6},{"year":2008,"value":0.26},{"year":2009,"value":0.36},{"year":2010,"value":1.5},{"year":2011,"value":4.7},{"year":2012,"value":5},{"year":2013,"value":5.6},{"year":2014,"value":6.1},{"year":2015,"value":6.6}]
},
"bounds":"flush",
"spacing":101,
"vconcat":[
{
"width":711,"height":246,
"title":{"text":"(a)","anchor":"start","frame":"group","dx":-83.5,"offset":5,"fontSize":22,"fontWeight":"normal","font":"Lato","color":"black"},
"resolve":{"scale":{"y":"independent"}},
"layer":[
{"layer":[
{"data":{"values":[{}]},"mark":{"type":"rect","filled":false,"stroke":"#a6a6a6","strokeWidth":1.5},"encoding":{"x":{"datum":1574.8,"type":"quantitative"},"x2":{"datum":2025.3},"y":{"datum":-27.7,"type":"quantitative"},"y2":{"datum":215.2}}},
{"data":{"name":"ri"},"mark":{"type":"line","color":"#ff0000","strokeWidth":2.5},"encoding":{
"x":{"field":"year","type":"quantitative","scale":{"domain":[1600,2015],"nice":false,"zero":false},"axis":{"title":"Year","values":[1600,1610,1620,1630,1640,1650,1660,1670,1680,1690,1700,1710,1720,1730,1740,1750,1760,1770,1780,1790,1800,1810,1820,1830,1840,1850,1860,1870,1880,1890,1900,1910,1920,1930,1940,1950,1960,1970,1980,1990,2000,2010],"tickCount":200,"format":"d","labelExpr":"datum.value % 50 == 0 ? datum.label : ''","labelFont":"Liberation Sans","labelFontWeight":"bold","labelFontSize":13,"labelPadding":9,"tickSize":5,"labelFlush":false,"labelOverlap":false,"titleFont":"Lato","titleFontSize":21,"titleFontWeight":"normal","titlePadding":18}},
"y":{"field":"value","type":"quantitative","scale":{"domain":[0,200],"nice":false},"axis":{"title":"Number","values":[0,20,40,60,80,100,120,140,160,180,200],"tickCount":200,"format":"d","labelOverlap":false,"tickSize":5,"labelFont":"Lato","labelFontSize":14,"labelPadding":4,"titleFont":"Lato","titleFontSize":21,"titleFontWeight":"normal","titlePadding":12}}}},
{"data":{"values":[{}]},"mark":{"type":"text","text":"International Sunspot Number R","align":"left","baseline":"alphabetic","font":"Liberation Sans","fontWeight":"bold","fontSize":16.5,"color":"#ff0000"},"encoding":{"x":{"datum":1609.6},"y":{"datum":177.8}}},
{"data":{"values":[{}]},"mark":{"type":"text","text":"I","align":"left","baseline":"alphabetic","font":"Liberation Sans","fontWeight":"bold","fontSize":11,"color":"#ff0000"},"encoding":{"x":{"datum":1758.7},"y":{"datum":174.6}}},
{"data":{"values":[{}]},"mark":{"type":"text","text":"Group Sunspot Number","align":"left","baseline":"alphabetic","font":"Liberation Sans","fontWeight":"bold","fontSize":16.5,"color":"#1a88f5"},"encoding":{"x":{"datum":1609.6},"y":{"datum":161.9}}},
{"data":{"values":[{}]},"mark":{"type":"text","text":"R","align":"left","baseline":"alphabetic","font":"Liberation Sans","fontWeight":"bold","fontSize":16.5,"color":"#1a88f5"},"encoding":{"x":{"datum":1752.3},"y":{"datum":161.9}}},
{"data":{"values":[{}]},"mark":{"type":"text","text":"G","align":"left","baseline":"alphabetic","font":"Liberation Sans","fontWeight":"bold","fontSize":11,"color":"#1a88f5"},"encoding":{"x":{"datum":1759.1},"y":{"datum":158.9}}}
]},
{"data":{"name":"rg"},"mark":{"type":"line","color":"#1a88f5","strokeWidth":2.5},"encoding":{
"x":{"field":"year","type":"quantitative"},
"y":{"field":"value","type":"quantitative","scale":{"domain":[0,200],"nice":false},"axis":{"orient":"right","title":null,"labels":false,"values":[0,20,40,60,80,100,120,140,160,180,200],"tickCount":200,"tickSize":5}}}}
]
},
{
"width":711,"height":250,
"title":{"text":"(b)","anchor":"start","frame":"group","dx":-83.5,"offset":5,"fontSize":22,"fontWeight":"normal","font":"Lato","color":"black"},
"resolve":{"scale":{"y":"independent"}},
"layer":[
{"layer":[
{"data":{"values":[{}]},"mark":{"type":"rect","filled":false,"stroke":"#a6a6a6","strokeWidth":1.5},"encoding":{"x":{"datum":1574.8,"type":"quantitative"},"x2":{"datum":2025.3},"y":{"datum":-37.7,"type":"quantitative"},"y2":{"datum":320.4}}},
{"data":{"name":"sn"},"mark":{"type":"line","color":"#ff0000","strokeWidth":2.5},"encoding":{
"x":{"field":"year","type":"quantitative","scale":{"domain":[1600,2015],"nice":false,"zero":false},"axis":{"title":"Year","values":[1600,1610,1620,1630,1640,1650,1660,1670,1680,1690,1700,1710,1720,1730,1740,1750,1760,1770,1780,1790,1800,1810,1820,1830,1840,1850,1860,1870,1880,1890,1900,1910,1920,1930,1940,1950,1960,1970,1980,1990,2000,2010],"tickCount":200,"format":"d","labelExpr":"datum.value % 50 == 0 ? datum.label : ''","labelFont":"Liberation Sans","labelFontWeight":"bold","labelFontSize":13,"labelPadding":9,"tickSize":5,"labelFlush":false,"labelOverlap":false,"titleFont":"Lato","titleFontSize":21,"titleFontWeight":"normal","titlePadding":15}},
"y":{"field":"value","type":"quantitative","scale":{"domain":[0,300],"nice":false},"axis":{"title":"Number","values":[0,50,100,150,200,250,300],"tickCount":200,"format":"d","labelOverlap":false,"tickSize":5,"labelFont":"Lato","labelFontSize":14,"labelPadding":4,"titleFont":"Lato","titleFontSize":21,"titleFontWeight":"normal","titlePadding":12}}}},
{"data":{"values":[{}]},"mark":{"type":"text","text":"Sunspot Number S","align":"left","baseline":"alphabetic","font":"Liberation Sans","fontWeight":"bold","fontSize":16.5,"color":"#ff0000"},"encoding":{"x":{"datum":1609.6},"y":{"datum":267.1}}},
{"data":{"values":[{}]},"mark":{"type":"text","text":"N","align":"left","baseline":"alphabetic","font":"Liberation Sans","fontWeight":"bold","fontSize":11,"color":"#ff0000"},"encoding":{"x":{"datum":1696.8},"y":{"datum":263.2}}},
{"data":{"values":[{}]},"mark":{"type":"text","text":"Group Number","align":"left","baseline":"alphabetic","font":"Liberation Sans","fontWeight":"bold","fontSize":16.5,"color":"#1a88f5"},"encoding":{"x":{"datum":1609.6},"y":{"datum":243.1}}},
{"data":{"values":[{}]},"mark":{"type":"text","text":"G","align":"left","baseline":"alphabetic","font":"Liberation Sans","fontWeight":"bold","fontSize":16.5,"color":"#1a88f5"},"encoding":{"x":{"datum":1689.4},"y":{"datum":243.1}}},
{"data":{"values":[{}]},"mark":{"type":"text","text":"N","align":"left","baseline":"alphabetic","font":"Liberation Sans","fontWeight":"bold","fontSize":11,"color":"#1a88f5"},"encoding":{"x":{"datum":1696.8},"y":{"datum":239.2}}}
]},
{"data":{"name":"gn"},"mark":{"type":"line","color":"#1a88f5","strokeWidth":2.5},"encoding":{
"x":{"field":"year","type":"quantitative"},
"y":{"field":"value","type":"quantitative","scale":{"domain":[0,15],"nice":false},"axis":{"orient":"right","title":null,"values":[0,2,4,6,8,10,12,14],"tickCount":200,"format":"d","labelOverlap":false,"tickSize":5,"labelFont":"Lato","labelFontSize":14,"labelPadding":6}}}}
]
}
]
}
